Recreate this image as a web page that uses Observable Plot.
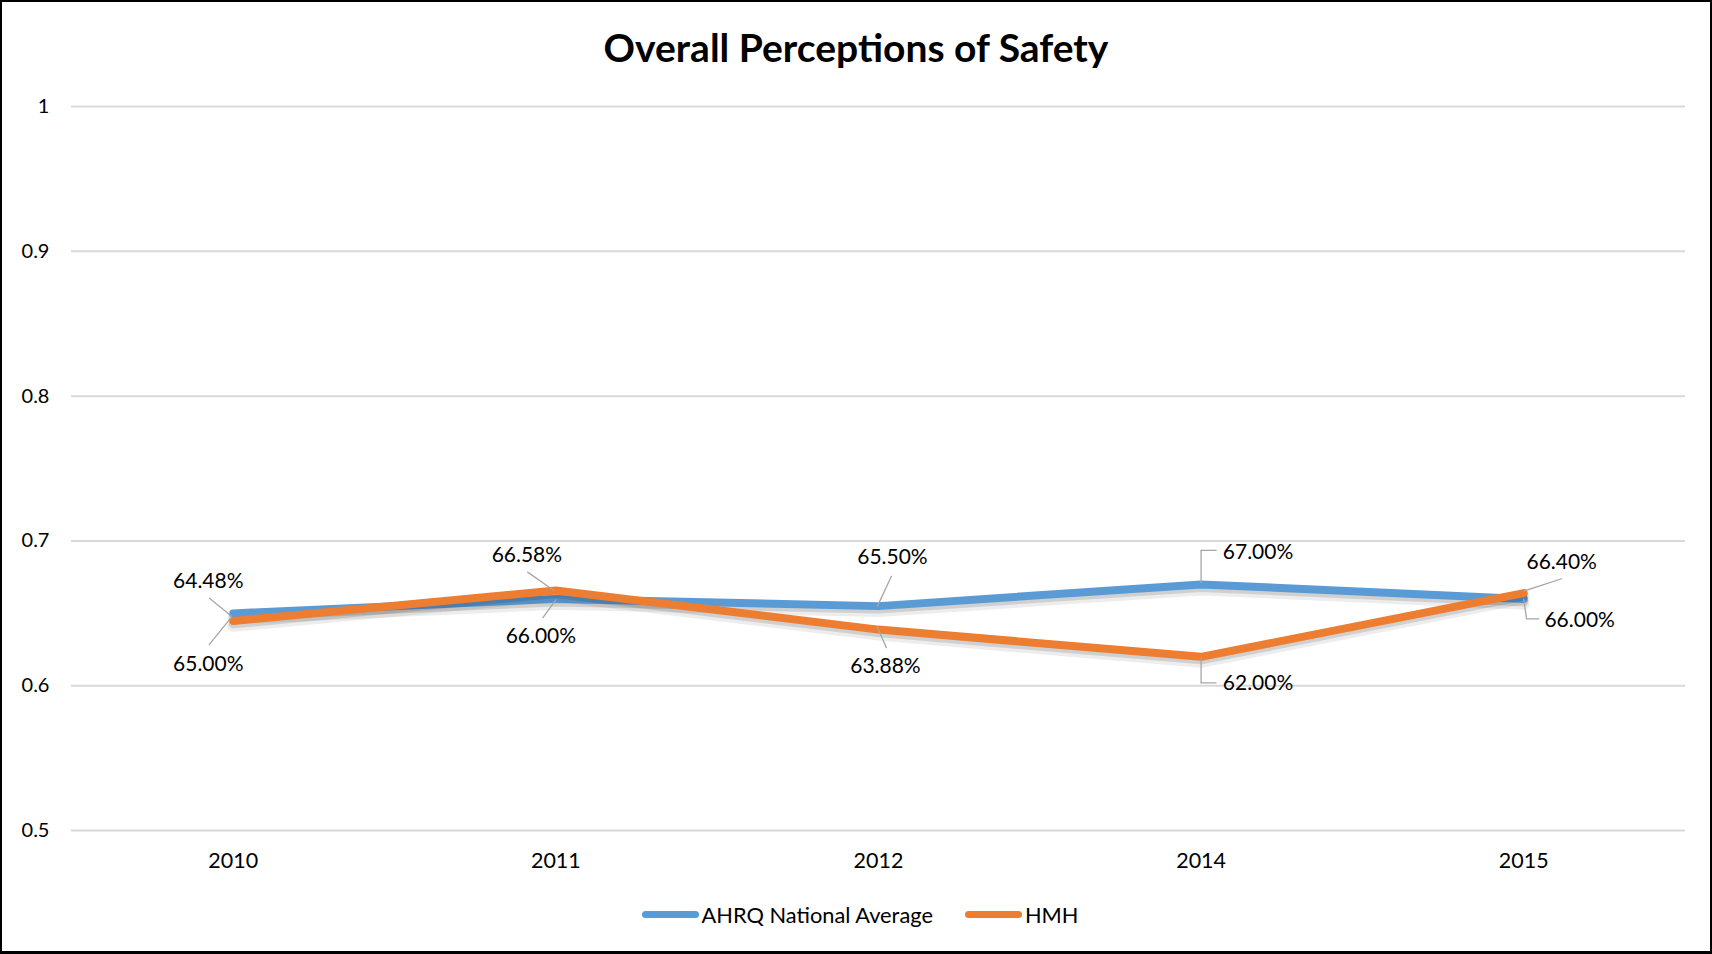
<!DOCTYPE html>
<html>
<head>
<meta charset="utf-8">
<script src="https://cdn.jsdelivr.net/npm/d3@7"></script>
<script src="https://cdn.jsdelivr.net/npm/@observablehq/plot@0.6"></script>
<style>
  html, body { margin: 0; padding: 0; background: #fff; }
  #frame {
    position: relative; width: 1712px; height: 954px; box-sizing: border-box;
    border: 2px solid #000; border-bottom-width: 3px; background: #fff; overflow: hidden;
    font-family: Lato, "Open Sans", sans-serif;
  }
  #title {
    position: absolute; left: 0; right: 0; top: 22px; text-align: center;
    font-size: 39px; font-weight: bold; color: #000;
  }
  #chart { position: absolute; left: -2px; top: 78px; }
  #legend {
    position: absolute; left: 0; right: 0; top: 899px; display: flex; justify-content: center;
    align-items: center; gap: 32px; font-size: 21.8px; color: #000; padding-left: 8px;
  }
  .item { display: flex; align-items: center; gap: 3px; }
  .sw { width: 57px; height: 7px; border-radius: 4px; }
</style>
</head>
<body>
<div id="frame">
  <div id="title">Overall Perceptions of Safety</div>
  <div id="chart"></div>
  <div id="legend"></div>
</div>
<script>
// ---- data ----
const years = ["2010", "2011", "2012", "2014", "2015"];
const ahrqValues = [0.65, 0.66, 0.655, 0.67, 0.66];
const hmhValues = [0.6448, 0.6658, 0.6388, 0.62, 0.664];
const seriesNames = ["AHRQ National Average", "HMH"];
const seriesColors = ["#5b9bd5", "#ed7d31"];
const yTicks = [0.5, 0.6, 0.7, 0.8, 0.9, 1];

// ---- layout of data labels (pixel offsets from each point) ----
const ahrqLabelOffsets = [[-25, 51], [-15, 37], [14, -49], [57, -32], [56, 21]];
const hmhLabelOffsets = [[-25, -40], [-29, -35], [7, 37], [57, 26], [38, -31]];
// leader segments: [startDx, startDy, length, rotateDeg]
const ahrqLeaders = [
  [[-2, 4, 35, 219]],
  [[0, 1, 22, 216]],
  [[-1, 0, 33, 25]],
  [[0, -2, 32, 0], [0, -34, 15, 90]],
  [[0, 0, 20, 172], [3, 20, 12, 90]]
];
const hmhLeaders = [
  [[-2, -5, 28, 309]],
  [[-2, 0, 32, 305]],
  [[-1, -2, 22, 156]],
  [[0, 1, 25, 180], [0, 26, 15, 90]],
  [[0, -2, 40, 72]]
];

const ahrq = years.map((year, i) => ({year, value: ahrqValues[i], series: seriesNames[0]}));
const hmh = years.map((year, i) => ({year, value: hmhValues[i], series: seriesNames[1]}));

const fmt = v => (v * 100).toFixed(2) + "%";
const lineShape = {draw(ctx, l) { ctx.moveTo(0, 0); ctx.lineTo(0, -l); }};

function labelMarks(rows, offsets, leaders) {
  const marks = [];
  rows.forEach((d, i) => {
    const [dx, dy] = offsets[i];
    marks.push(Plot.text([d], {x: "year", y: "value", text: d => fmt(d.value), dx, dy,
      fontSize: 21, fill: "#000", fontFamily: "Lato"}));
    leaders[i].forEach(([sx, sy, len, rot]) => {
      marks.push(Plot.vector([d], {x: "year", y: "value", dx: sx, dy: sy, length: len, rotate: rot,
        anchor: "start", shape: lineShape, stroke: "#a6a6a6", strokeWidth: 1.3}));
    });
  });
  return marks;
}

const shadow = rows => [
  Plot.line(rows, {x: "year", y: "value", stroke: "#000", strokeOpacity: 0.07, strokeWidth: 12, dy: 5, strokeLinejoin: "round", strokeLinecap: "round"}),
  Plot.line(rows, {x: "year", y: "value", stroke: "#000", strokeOpacity: 0.12, strokeWidth: 9, dy: 3, strokeLinejoin: "round", strokeLinecap: "round"})
];

const chart = Plot.plot({
  width: 1712,
  height: 810,
  marginTop: 26,
  marginBottom: 59,
  marginLeft: 71,
  marginRight: 25,
  style: {fontFamily: "Lato, sans-serif", background: "transparent"},
  x: {type: "point", domain: years, padding: 0.5},
  y: {domain: [0.5, 1]},
  marks: [
    Plot.ruleY(yTicks, {stroke: "#d9d9d9", strokeWidth: 2}),
    Plot.axisY(yTicks, {tickSize: 0, tickPadding: 22, fontSize: 20, tickFormat: d => String(+d.toFixed(1)), label: null, fill: "#000"}),
    Plot.axisX(years, {tickSize: 0, tickPadding: 22, fontSize: 21.5, label: null, fill: "#000"}),
    ...shadow(ahrq),
    Plot.line(ahrq, {x: "year", y: "value", stroke: seriesColors[0], strokeWidth: 8, strokeLinejoin: "round", strokeLinecap: "round"}),
    ...shadow(hmh),
    Plot.line(hmh, {x: "year", y: "value", stroke: seriesColors[1], strokeWidth: 8, strokeLinejoin: "round", strokeLinecap: "round"}),
    ...labelMarks(ahrq, ahrqLabelOffsets, ahrqLeaders),
    ...labelMarks(hmh, hmhLabelOffsets, hmhLeaders)
  ]
});
document.getElementById("chart").appendChild(chart);

const legend = document.getElementById("legend");
seriesNames.forEach((name, i) => {
  const item = document.createElement("div");
  item.className = "item";
  const sw = document.createElement("div");
  sw.className = "sw";
  sw.style.background = seriesColors[i];
  const t = document.createElement("span");
  t.textContent = name;
  item.appendChild(sw);
  item.appendChild(t);
  legend.appendChild(item);
});
</script>
</body>
</html>
